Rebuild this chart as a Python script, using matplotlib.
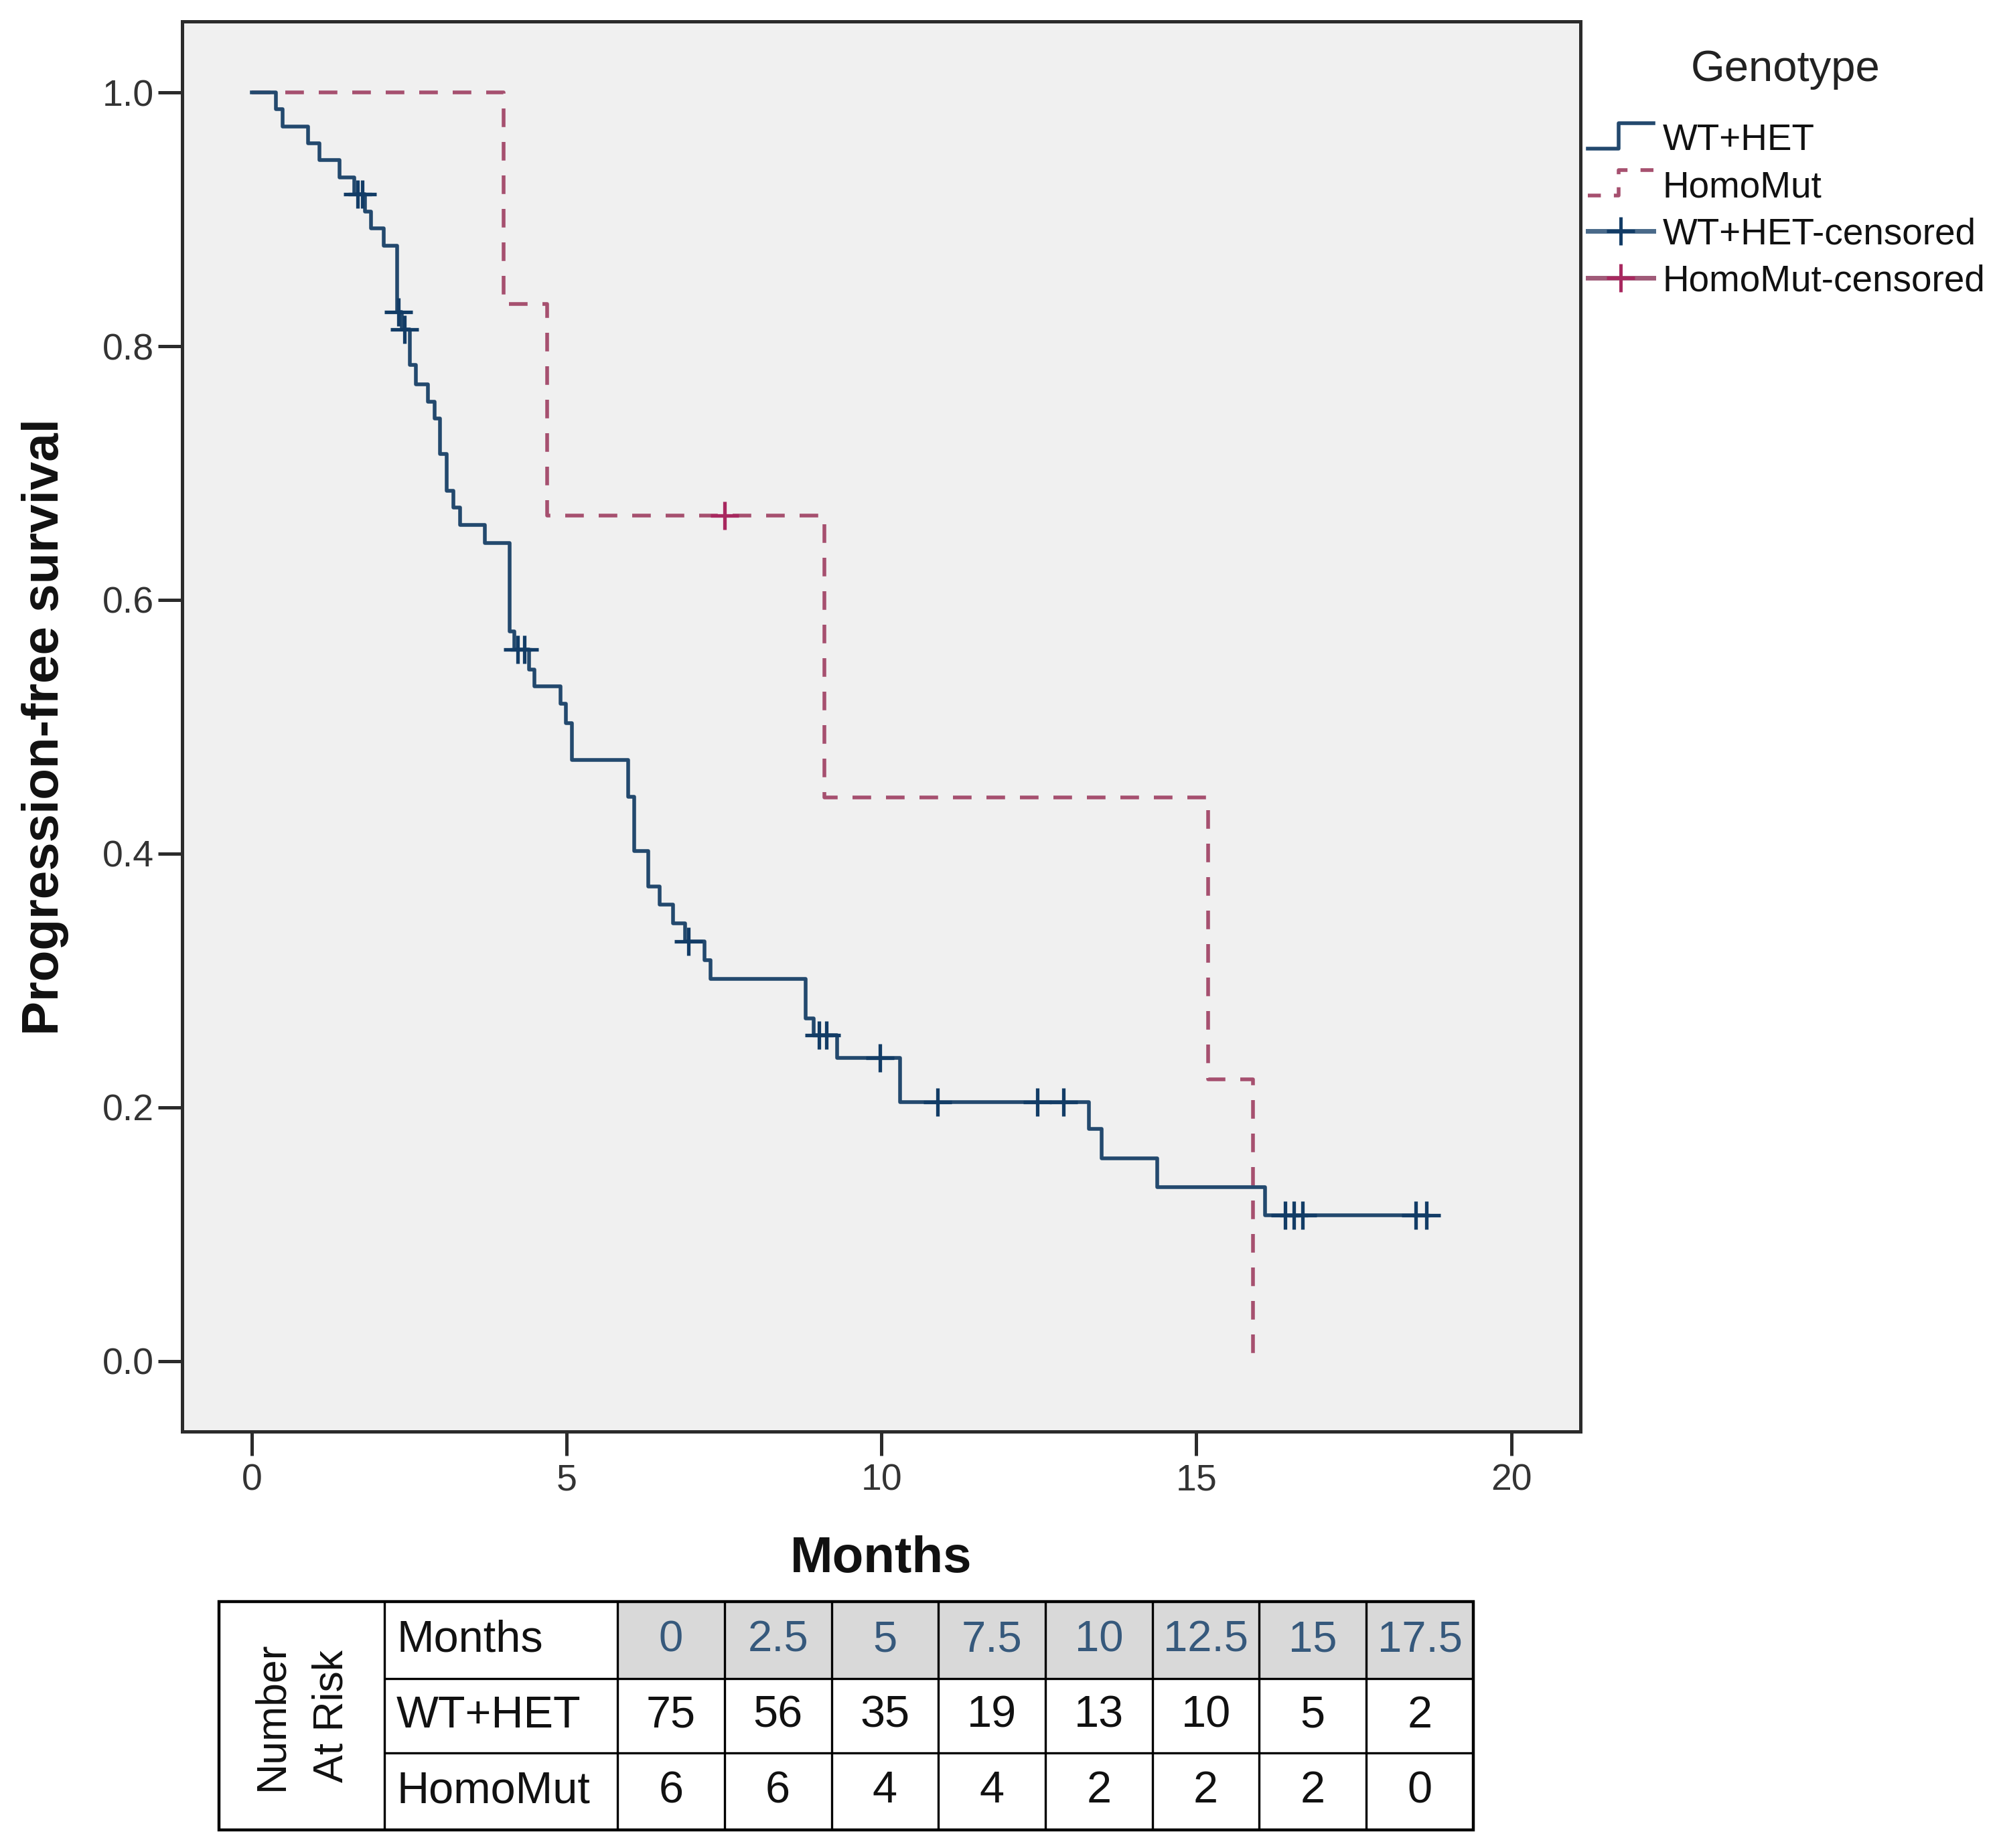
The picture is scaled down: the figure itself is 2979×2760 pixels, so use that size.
import numpy as np
import matplotlib
matplotlib.use('Agg')
import matplotlib.pyplot as plt
from matplotlib.lines import Line2D
from matplotlib.legend_handler import HandlerBase
from matplotlib.patches import Rectangle

plt.rcParams['font.family'] = ['Liberation Sans', 'DejaVu Sans']

# ---------------- data ----------------
wt_event_times = [0.38, 0.49, 0.89, 1.07, 1.39, 1.63, 1.80, 1.89, 2.10, 2.31, 2.38,
                  2.51, 2.61, 2.80, 2.90, 2.99, 3.09, 3.20, 3.31, 3.70, 4.09, 4.17,
                  4.40, 4.49, 4.90, 4.99, 5.08, 5.98, 6.07, 6.30, 6.48, 6.69, 6.88,
                  7.19, 7.29, 8.80, 8.92, 9.30, 10.30, 13.29, 13.50, 14.38, 16.09]
wt_surv = [0.987, 0.973, 0.960, 0.947, 0.933, 0.920, 0.906, 0.893, 0.879, 0.827, 0.813,
           0.785, 0.770, 0.756, 0.743, 0.715, 0.686, 0.673, 0.659, 0.645, 0.575, 0.561,
           0.545, 0.532, 0.518, 0.503, 0.474, 0.445, 0.402, 0.374, 0.360, 0.345, 0.331,
           0.316, 0.301, 0.270, 0.257, 0.239, 0.204, 0.183, 0.160, 0.137, 0.115]
wt_censor_times = [1.68, 1.76, 2.33, 2.42, 4.22, 4.33, 6.93, 9.01, 9.13, 9.98,
                   10.89, 12.48, 12.89, 16.41, 16.55, 16.69, 18.48, 18.65]

hm_event_times = [4.00, 4.69, 9.09, 15.19, 15.90]
hm_surv = [0.8333, 0.6667, 0.4444, 0.2222, 0.0]
hm_censor_times = [7.51]

risk_months = ['0', '2.5', '5', '7.5', '10', '12.5', '15', '17.5']
risk_wt = [75, 56, 35, 19, 13, 10, 5, 2]
risk_hm = [6, 6, 4, 4, 2, 2, 2, 0]

group_labels = ['WT+HET', 'HomoMut']
x_ticks = [0, 5, 10, 15, 20]
y_ticks = [0.0, 0.2, 0.4, 0.6, 0.8, 1.0]

# ---------------- styles ----------------
WT_C = '#23496e'
HM_C = '#a6506f'
HM_CENS = '#a8285f'
W, H = 2979, 2760

fig = plt.figure(figsize=(W / 100, H / 100), dpi=100)
fig.patch.set_facecolor('white')

ax = fig.add_axes([272 / W, 1 - 2138 / H, (2360 - 272) / W, (2138 - 32) / H])
ax.set_facecolor('#f0f0f0')


def surv_at(t, times, surv):
    idx = np.searchsorted(times, t, side='right')
    return 1.0 if idx == 0 else surv[idx - 1]


# WT+HET curve
wt_x = [0.0] + wt_event_times + [max(wt_censor_times)]
wt_y = [1.0] + wt_surv + [wt_surv[-1]]
ax.step(wt_x, wt_y, where='post', color=WT_C, lw=4.0, zorder=3)
wt_cy = [surv_at(t, wt_event_times, wt_surv) for t in wt_censor_times]
ax.plot(wt_censor_times, wt_cy, ls='none', marker='+', ms=30, mew=3.8,
        color='#123c66', zorder=4)

# HomoMut curve
hm_x = [0.0] + hm_event_times
hm_y = [1.0] + hm_surv
ax.step(hm_x, hm_y, where='post', color=HM_C, lw=4.0, dashes=(5.0, 4.0), zorder=2)
hm_cy = [surv_at(t, hm_event_times, hm_surv) for t in hm_censor_times]
ax.plot(hm_censor_times, hm_cy, ls='none', marker='+', ms=30, mew=3.8,
        color=HM_CENS, zorder=4)

ax.set_xlim(-1.106, 21.1)
ax.set_ylim(-0.0556, 1.056)
ax.set_xticks(x_ticks)
ax.set_xticklabels([str(v) for v in x_ticks])
ax.set_yticks(y_ticks)
ax.set_yticklabels([f'{v:.1f}' for v in y_ticks])
for s in ax.spines.values():
    s.set_linewidth(3.6)
    s.set_color('#2b2b2b')
ax.tick_params(axis='both', direction='out', length=26, width=3.6, color='#2b2b2b',
               labelsize=40, labelcolor='#333333')
ax.tick_params(axis='x', pad=8)
ax.tick_params(axis='y', pad=4)
ax.set_xlabel('Months', fontsize=55, fontweight='bold', labelpad=40, color='#111111')
ax.set_ylabel('Progression-free survival', fontsize=55, fontweight='bold', labelpad=36,
              color='#111111')


# ---------------- legend ----------------
class StepHandler(HandlerBase):
    def create_artists(self, legend, orig_handle, xdescent, ydescent, width, height,
                       fontsize, trans):
        x0 = -xdescent
        x1 = x0 + width
        xm = x0 + width * 0.47
        ylo = -ydescent + height * 0.05
        yhi = -ydescent + height * 1.05
        ln = Line2D([x0, xm, xm, x1], [ylo, ylo, yhi, yhi],
                    color=orig_handle.get_color(), linewidth=orig_handle.get_linewidth())
        if orig_handle.get_linestyle() not in ('-', 'solid'):
            ln.set_dashes((3.5, 3.5))
        ln.set_transform(trans)
        return [ln]


h_wt = Line2D([], [], color=WT_C, lw=4.0, ls='-')
h_hm = Line2D([], [], color=HM_C, lw=4.0, ls='--')
h_wtc = Line2D([], [], color='#4a6a8a', lw=5.0, marker='+', ms=30, mew=3.6,
               markeredgecolor='#123c66')
h_hmc = Line2D([], [], color='#a05a78', lw=5.0, marker='+', ms=30, mew=3.6,
               markeredgecolor=HM_CENS)
fig.text(2666 / W, 1 - 104 / H, 'Genotype', ha='center', va='center', fontsize=47,
         color='#222222')
leg = fig.legend([h_wt, h_hm, h_wtc, h_hmc],
                 [group_labels[0], group_labels[1], group_labels[0] + '-censored',
                  group_labels[1] + '-censored'],
                 loc='upper left', bbox_to_anchor=(2371 / W, 1 - 184 / H),
                 frameon=False, fontsize=39.5, handlelength=1.78, handletextpad=0.25,
                 labelspacing=0.33, borderpad=0, borderaxespad=0, numpoints=1,
                 handler_map={h_wt: StepHandler(), h_hm: StepHandler()})
for t in leg.get_texts():
    t.set_color('#111111')

# ---------------- number at risk table ----------------
tx0, tx1, ty0, ty1 = 327, 2200, 2392, 2733
tab = fig.add_axes([tx0 / W, 1 - ty1 / H, (tx1 - tx0) / W, (ty1 - ty0) / H])
tw, th = tx1 - tx0, ty1 - ty0
tab.set_xlim(0, tw)
tab.set_ylim(th, 0)
tab.axis('off')

first_w = 247
label_w = 348
ncol = len(risk_months)
val_w = (tw - first_w - label_w) / ncol
col_edges = [0, first_w, first_w + label_w] + [first_w + label_w + val_w * (i + 1)
                                               for i in range(ncol)]
row_edges = [0, 115, 226, th]

for i in range(ncol):
    tab.add_patch(Rectangle((col_edges[2 + i], row_edges[0]), val_w,
                            row_edges[1] - row_edges[0], facecolor='#d9d9d9',
                            edgecolor='none', zorder=1))

lw_in = 2.4
for yv in row_edges[1:3]:
    tab.plot([col_edges[1], tw], [yv, yv], color='black', lw=lw_in, zorder=3,
             solid_capstyle='butt')
for i, xv in enumerate(col_edges[1:-1]):
    tab.plot([xv, xv], [0, th], color='black', lw=lw_in, zorder=3,
             solid_capstyle='butt')
tab.add_patch(Rectangle((0, 0), tw, th, facecolor='none', edgecolor='black', lw=3.2,
                        zorder=4, clip_on=False))

row_mid = [(row_edges[k] + row_edges[k + 1]) / 2 for k in range(3)]
tab.text((col_edges[0] + col_edges[1]) / 2, th / 2, 'Number\nAt Risk', rotation=90,
         ha='center', va='center', fontsize=45, linespacing=1.65, color='#111111')
tab.text(col_edges[1] + 18, row_mid[0], 'Months', ha='left', va='center', fontsize=48,
         color='#111111')
tab.text(col_edges[1] + 18, row_mid[1], group_labels[0], ha='left', va='center',
         fontsize=48, color='#111111')
tab.text(col_edges[1] + 18, row_mid[2], group_labels[1], ha='left', va='center',
         fontsize=48, color='#111111')
for i in range(ncol):
    cx = col_edges[2 + i] + val_w / 2
    tab.text(cx, row_mid[0], risk_months[i], ha='center', va='center', fontsize=47,
             color='#36597c')
    tab.text(cx, row_mid[1], str(risk_wt[i]), ha='center', va='center', fontsize=48,
             color='#111111')
    tab.text(cx, row_mid[2], str(risk_hm[i]), ha='center', va='center', fontsize=48,
             color='#111111')

fig.savefig('out.png', dpi=100)
